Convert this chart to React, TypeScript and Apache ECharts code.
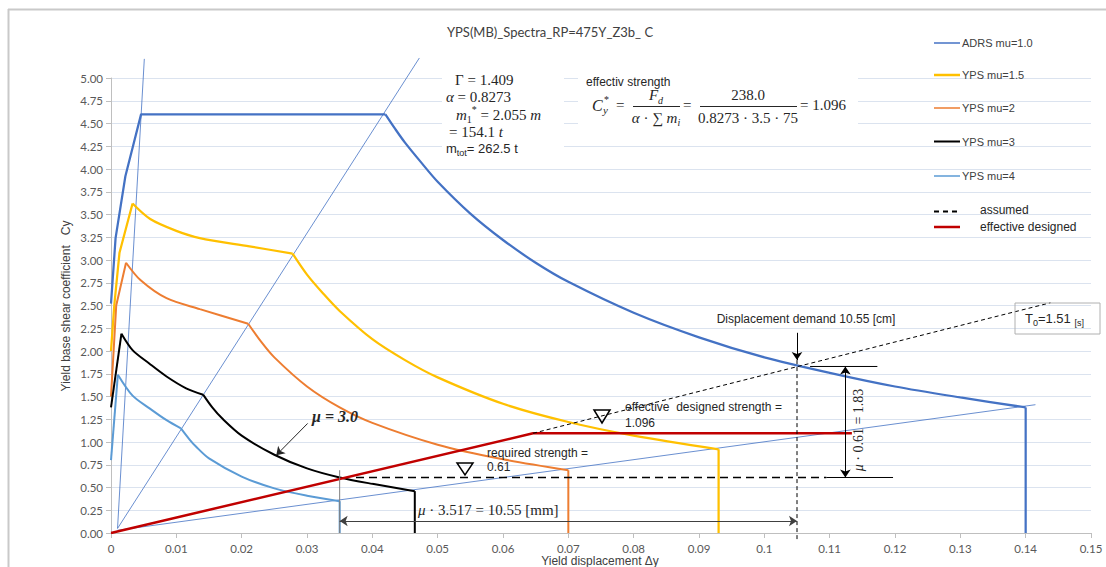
import { useEffect, useRef } from "react";
import * as echarts from "echarts";

// ---- spectra read in (yield displacement Δy [m], yield base shear coefficient Cy) ----
const ADRS_X = [0, 0.0007, 0.0022, 0.0046, 0.042, 0.0435, 0.045, 0.0475, 0.05, 0.055, 0.06, 0.065, 0.07, 0.08, 0.09, 0.1, 0.11, 0.12, 0.13, 0.14, 0.14];
const ADRS_Y = [2.52, 3.24, 3.92, 4.6, 4.6, 4.44, 4.29, 4.07, 3.86, 3.51, 3.22, 2.97, 2.76, 2.42, 2.15, 1.93, 1.76, 1.61, 1.49, 1.38, 0];
const ADRS_BREAKS = [0, 4, 19, 20];

const MU15_X = [0, 0.0005, 0.0013, 0.0033, 0.006, 0.01, 0.0136, 0.0212, 0.0278, 0.03, 0.0325, 0.035, 0.04, 0.045, 0.05, 0.06, 0.07, 0.08, 0.093, 0.093];
const MU15_Y = [2.0, 2.5, 3.08, 3.62, 3.45, 3.32, 3.24, 3.15, 3.07, 2.84, 2.63, 2.44, 2.13, 1.9, 1.71, 1.42, 1.22, 1.07, 0.92, 0];
const MU15_BREAKS = [0, 3, 8, 18, 19];

const MU2_X = [0, 0.0008, 0.0023, 0.0045, 0.0085, 0.0136, 0.021, 0.023, 0.025, 0.03, 0.035, 0.04, 0.05, 0.06, 0.07, 0.07];
const MU2_Y = [1.5, 2.5, 2.97, 2.78, 2.58, 2.46, 2.3, 2.1, 1.93, 1.61, 1.38, 1.21, 0.97, 0.81, 0.69, 0];
const MU2_BREAKS = [0, 2, 6, 14, 15];

const MU3_X = [0, 0.0016, 0.0033, 0.0059, 0.0085, 0.0115, 0.0141, 0.0155, 0.017, 0.02, 0.025, 0.03, 0.035, 0.04, 0.0465, 0.0465];
const MU3_Y = [1.38, 2.19, 2.01, 1.86, 1.72, 1.59, 1.52, 1.38, 1.26, 1.07, 0.86, 0.71, 0.61, 0.54, 0.46, 0];
const MU3_BREAKS = [0, 1, 6, 14, 15];

const MU4_X = [0, 0.00105, 0.0033, 0.0059, 0.0085, 0.0107, 0.012, 0.013, 0.015, 0.02, 0.025, 0.03, 0.035, 0.035];
const MU4_Y = [0.8, 1.74, 1.51, 1.37, 1.24, 1.15, 1.03, 0.95, 0.82, 0.62, 0.49, 0.41, 0.35, 0];
const MU4_BREAKS = [0, 1, 5, 12, 13];

// period rays
const RAY_A_X = [0.001, 0.0051];
const RAY_A_Y = [0.05, 5.21];
const RAY_B_X = [0.001, 0.0472];
const RAY_B_Y = [0.05, 5.22];
const RAY_C_X = [0.001, 0.1415];
const RAY_C_Y = [0.03, 1.41];

// design values
const REQUIRED_STRENGTH = 0.61;
const EFFECTIVE_STRENGTH = 1.096;
const DEMAND_DISP = 0.105;
const DEMAND_CY = 1.83;
const MU3_YIELD_DISP = 0.035;

const ASSUMED_X = [0.0646, 0.1438];
const ASSUMED_Y = [EFFECTIVE_STRENGTH, 2.53];
const DESIGNED_X = [0, 0.0646, 0.1134];
const DESIGNED_Y = [0, EFFECTIVE_STRENGTH, EFFECTIVE_STRENGTH];
const REQUIRED_X = [0.0375, 0.1095];
const REQUIRED_TAIL_X = [0.1095, 0.1197];
const DEMAND_TOP_X = [0.107, 0.1173];

const FONT_SANS = '"Liberation Sans", Arial, sans-serif';
const FONT_SERIF = '"Liberation Serif", "DejaVu Serif", serif';
const FONT_UI = 'Lato, "Open Sans", sans-serif';

const zip = (xs: number[], ys: number[]) => xs.map((x, i) => [x, ys[i]]);

const curve = (name: string, xs: number[], ys: number[], color: string, width: number, extra: any = {}) => ({
  name,
  type: "line",
  data: zip(xs, ys),
  showSymbol: false,
  symbol: "none",
  silent: true,
  smooth: extra.smooth ?? false,
  lineStyle: { color, width, ...(extra.lineStyle || {}) },
  z: extra.z ?? 2,
  clip: extra.clip ?? true,
});

// one spectrum drawn piecewise: straight for the initial rise and the final drop,
// smoothed between the corner points in between
const spectrum = (name: string, xs: number[], ys: number[], breaks: number[], color: string, width: number) => {
  const out: any[] = [];
  for (let k = 0; k < breaks.length - 1; k++) {
    const a = breaks[k];
    const b = breaks[k + 1];
    const isCurved = k > 0 && k < breaks.length - 2;
    out.push(curve(name, xs.slice(a, b + 1), ys.slice(a, b + 1), color, width, { smooth: isCurved ? 0.3 : false }));
  }
  return out;
};

const mark = (name: string, from: number[], to: number[], symbols: string[], color = "#000", width = 1) => ({
  name,
  type: "line",
  data: [],
  silent: true,
  z: 6,
  markLine: {
    silent: true,
    animation: false,
    symbol: symbols,
    symbolSize: 8,
    label: { show: false },
    emphasis: { disabled: true },
    lineStyle: { color, width, type: "solid" },
    data: [[{ coord: from }, { coord: to }]],
  },
});

const text = (x: number, y: number, content: string, style: any = {}, extra: any = {}) => ({
  type: "text",
  x,
  y,
  z: 20,
  silent: true,
  ...extra,
  style: {
    text: content,
    fill: "#262626",
    fontFamily: FONT_SANS,
    fontSize: 12,
    align: "left",
    verticalAlign: "middle",
    textAlign: "left",
    textVerticalAlign: "middle",
    ...style,
  },
});

const seg = (x1: number, y1: number, x2: number, y2: number, stroke: string, lineWidth: number, lineDash?: number[]) => ({
  type: "line",
  z: 20,
  silent: true,
  shape: { x1, y1, x2, y2 },
  style: { stroke, lineWidth, lineDash },
});

const mathRich = {
  n: { fontFamily: FONT_SERIF, fontSize: 15, lineHeight: 20, fill: "#262626", color: "#262626" },
  i: { fontFamily: FONT_SERIF, fontSize: 15, fontStyle: "italic", lineHeight: 20, fill: "#262626", color: "#262626" },
  s: { fontFamily: FONT_SERIF, fontSize: 10, fontStyle: "italic", verticalAlign: "bottom", fill: "#262626", color: "#262626" },
  sn: { fontFamily: FONT_SERIF, fontSize: 10, verticalAlign: "bottom", fill: "#262626", color: "#262626" },
  p: { fontFamily: FONT_SERIF, fontSize: 10, verticalAlign: "top", fill: "#262626", color: "#262626" },
};

const mathRichSmall = {
  n: { ...mathRich.n, fontSize: 14 },
  i: { ...mathRich.i, fontSize: 14 },
};

export default function App() {
  const ref = useRef<HTMLDivElement>(null);

  useEffect(() => {
    if (!ref.current) return;
    const chart = echarts.init(ref.current, undefined, { renderer: "svg" });

    const legendItems = [
      { y: 43, label: "ADRS mu=1.0", color: "#4472C4", w: 1.5 },
      { y: 75, label: "YPS mu=1.5", color: "#FFC000", w: 2.5 },
      { y: 108, label: "YPS mu=2", color: "#ED7D31", w: 1.5 },
      { y: 141.5, label: "YPS mu=3", color: "#000000", w: 2 },
      { y: 176, label: "YPS mu=4", color: "#5B9BD5", w: 1.5 },
    ];

    const graphics: any[] = [
      // chart frame
      seg(8, 9.5, 1106, 9.5, "#c9c9c9", 2),
      seg(8.5, 9, 8.5, 567, "#c9c9c9", 2),
      // title
      text(550, 32, "YPS(MB)_Spectra_RP=475Y_Z3b_ C", { fontFamily: FONT_UI, fontSize: 13, fill: "#404040", align: "center", textAlign: "center" }),
      // axis titles
      text(600, 561, "Yield displacement Δy", { fontSize: 12, fill: "#404040", align: "center", textAlign: "center" }),
      text(66, 306, "Yield base shear coefficient   Cy", { fontSize: 12, fill: "#404040", align: "center", textAlign: "center" }, { rotation: Math.PI / 2 }),
      // legend
      ...legendItems.flatMap((it) => [
        seg(934, it.y, 960, it.y, it.color, it.w),
        text(962, it.y, it.label, { fontSize: 11, fill: "#404040" }),
      ]),
      seg(934, 211.5, 960, 211.5, "#000", 2, [5, 4]),
      text(980, 210, "assumed", { fontSize: 12, fill: "#262626" }),
      seg(934, 227, 960, 227, "#C00000", 2.5),
      text(980, 226.5, "effective designed", { fontSize: 12, fill: "#262626" }),
      // parameter block
      { type: "rect", z: 1, silent: true, shape: { x: 442, y: 68, width: 122, height: 90 }, style: { fill: "#ffffff" } },
      { type: "rect", z: 1, silent: true, shape: { x: 578, y: 72, width: 280, height: 56 }, style: { fill: "#ffffff" } },
      text(455, 80, "{n|Γ = 1.409}", { rich: mathRich }),
      text(446, 97, "{i|α}{n| = 0.8273}", { rich: mathRich }),
      text(456, 114.5, "{i|m}{sn|1}{p|*}{n| = 2.055 }{i|m}", { rich: mathRich }),
      text(449, 132, "{n|= 154.1 }{i|t}", { rich: mathRich }),
      text(446, 148.5, "{a|m}{b|tot}{a|= 262.5 t}", {
        rich: {
          a: { fontFamily: FONT_SANS, fontSize: 13, lineHeight: 18, fill: "#262626", color: "#262626" },
          b: { fontFamily: FONT_SANS, fontSize: 9, verticalAlign: "bottom", fill: "#262626", color: "#262626" },
        },
      }),
      // effective strength formula
      text(586, 82, "effectiv strength", { fontSize: 12 }),
      text(592, 105, "C", { fontFamily: FONT_SERIF, fontSize: 16, fontStyle: "italic" }),
      text(604, 99, "*", { fontFamily: FONT_SERIF, fontSize: 10 }),
      text(603, 110, "y", { fontFamily: FONT_SERIF, fontSize: 11, fontStyle: "italic" }),
      text(616, 105, "=", { fontFamily: FONT_SERIF, fontSize: 15 }),
      text(656, 95, "{i|F}{s|d}", { rich: mathRich, align: "center", textAlign: "center" }),
      seg(633, 106.5, 680, 106.5, "#262626", 1),
      text(656, 117.5, "{i|α}{n| · ∑ }{i|m}{s|i}", { rich: mathRich, align: "center", textAlign: "center" }),
      text(683, 105, "=", { fontFamily: FONT_SERIF, fontSize: 15 }),
      text(748, 95, "238.0", { fontFamily: FONT_SERIF, fontSize: 15, align: "center", textAlign: "center" }),
      seg(700, 106.5, 797, 106.5, "#262626", 1),
      text(748, 117.5, "0.8273 · 3.5 · 75", { fontFamily: FONT_SERIF, fontSize: 15, align: "center", textAlign: "center" }),
      text(800, 105, "= 1.096", { fontFamily: FONT_SERIF, fontSize: 15 }),
      // demand annotation
      text(806, 319, "Displacement demand 10.55 [cm]", { fontSize: 12, align: "center", textAlign: "center" }),
      text(858, 430, "{i|μ}{n| · 0.61 = 1.83}", { rich: mathRichSmall, align: "center", textAlign: "center" }, { rotation: Math.PI / 2 }),
      // strength annotations
      text(625, 407, "effective  designed strength =", { fontSize: 12 }),
      text(625, 423, "1.096", { fontSize: 12 }),
      { type: "polygon", z: 20, silent: true, shape: { points: [[594, 410], [610, 410], [602, 423]] }, style: { fill: "none", stroke: "#000", lineWidth: 1.5 } },
      text(487, 452.5, "required strength =", { fontSize: 12 }),
      text(487, 466.5, "0.61", { fontSize: 12 }),
      { type: "polygon", z: 20, silent: true, shape: { points: [[457, 463], [473, 463], [465, 475]] }, style: { fill: "none", stroke: "#000", lineWidth: 1.5 } },
      // ductility annotations
      text(312, 416, "{b|μ = 3.0}", {
        rich: { b: { fontFamily: FONT_SERIF, fontSize: 16, fontWeight: "bold", fontStyle: "italic", fill: "#262626", color: "#262626" } },
      }),
      text(418, 510, "{i|μ}{n| · 3.517 = 10.55 [mm]}", { rich: mathRich }),
      // T0 label box
      { type: "rect", z: 20, silent: true, shape: { x: 1015, y: 303, width: 85, height: 31 }, style: { fill: "none", stroke: "#b0b0b0", lineWidth: 1 } },
      text(1025, 318, "{a|T}{b|0}{a|=1.51 }{c|[s]}", {
        rich: {
          a: { fontFamily: FONT_SANS, fontSize: 13, lineHeight: 18, fill: "#262626", color: "#262626" },
          b: { fontFamily: FONT_SANS, fontSize: 9, verticalAlign: "bottom", fill: "#262626", color: "#262626" },
          c: { fontFamily: FONT_SANS, fontSize: 9, lineHeight: 18, verticalAlign: "bottom", fill: "#262626", color: "#262626" },
        },
      }),
    ];

    chart.setOption({
      animation: false,
      backgroundColor: "#ffffff",
      grid: { left: 111, right: 15, top: 78, bottom: 34, containLabel: false },
      xAxis: {
        type: "value",
        min: 0,
        max: 0.15,
        interval: 0.01,
        axisLine: { show: true, lineStyle: { color: "#bfbfbf", width: 1 } },
        axisTick: { show: true, length: 5, lineStyle: { color: "#bfbfbf" } },
        splitLine: { show: false },
        axisLabel: {
          color: "#595959",
          fontFamily: FONT_UI,
          fontSize: 11.5,
          margin: 9,
          formatter: (v: number) => (v === 0 ? "0" : String(+v.toFixed(2))),
        },
      },
      yAxis: {
        type: "value",
        min: 0,
        max: 5,
        interval: 0.25,
        axisLine: { show: true, lineStyle: { color: "#bfbfbf", width: 1 } },
        axisTick: { show: true, length: 5, lineStyle: { color: "#bfbfbf" } },
        splitLine: { show: true, lineStyle: { color: "#dbe3ef", width: 1 } },
        axisLabel: {
          color: "#595959",
          fontFamily: FONT_UI,
          fontSize: 11.5,
          margin: 8,
          formatter: (v: number) => v.toFixed(2),
        },
      },
      series: [
        curve("ray A", RAY_A_X, RAY_A_Y, "#4472C4", 0.8, { clip: false }),
        curve("ray B", RAY_B_X, RAY_B_Y, "#4472C4", 0.8, { clip: false }),
        curve("ray C", RAY_C_X, RAY_C_Y, "#4472C4", 0.8, { clip: false }),
        ...spectrum("ADRS mu=1.0", ADRS_X, ADRS_Y, ADRS_BREAKS, "#4472C4", 2.25),
        ...spectrum("YPS mu=1.5", MU15_X, MU15_Y, MU15_BREAKS, "#FFC000", 2.25),
        ...spectrum("YPS mu=2", MU2_X, MU2_Y, MU2_BREAKS, "#ED7D31", 2),
        ...spectrum("YPS mu=3", MU3_X, MU3_Y, MU3_BREAKS, "#000000", 2),
        ...spectrum("YPS mu=4", MU4_X, MU4_Y, MU4_BREAKS, "#5B9BD5", 2),
        curve("effective designed", DESIGNED_X, DESIGNED_Y, "#C00000", 2.5, { z: 3 }),
        curve("assumed", ASSUMED_X, ASSUMED_Y, "#000000", 1, { lineStyle: { type: [4, 3] }, z: 4, clip: false }),
        curve("required strength", REQUIRED_X, [REQUIRED_STRENGTH, REQUIRED_STRENGTH], "#000000", 1.5, { lineStyle: { type: [8, 5] }, z: 4 }),
        curve("required strength tail", REQUIRED_TAIL_X, [REQUIRED_STRENGTH, REQUIRED_STRENGTH], "#000000", 1, { z: 4 }),
        curve("demand level", DEMAND_TOP_X, [DEMAND_CY, DEMAND_CY], "#000000", 1, { z: 4 }),
        curve("demand displacement", [DEMAND_DISP, DEMAND_DISP], [1.9, -0.08], "#000000", 1, { lineStyle: { type: [4, 3] }, z: 4, clip: false }),
        curve("mu3 yield", [MU3_YIELD_DISP, MU3_YIELD_DISP], [0, 0.69], "#7f7f7f", 1, { z: 4 }),
        mark("demand arrow", [DEMAND_DISP, 2.2], [DEMAND_DISP, 1.9], ["none", "arrow"]),
        mark("strength ratio", [0.1124, REQUIRED_STRENGTH], [0.1124, DEMAND_CY], ["arrow", "arrow"]),
        mark("displacement ratio", [MU3_YIELD_DISP, 0.132], [DEMAND_DISP, 0.132], ["arrow", "arrow"], "#404040"),
        mark("mu pointer", [0.0301, 1.204], [0.0253, 0.855], ["none", "arrow"], "#262626"),
      ],
      graphic: { elements: graphics },
    });

    return () => chart.dispose();
  }, []);

  return <div ref={ref} style={{ position: "absolute", left: 0, top: 0, width: 1106, height: 567 }} />;
}
